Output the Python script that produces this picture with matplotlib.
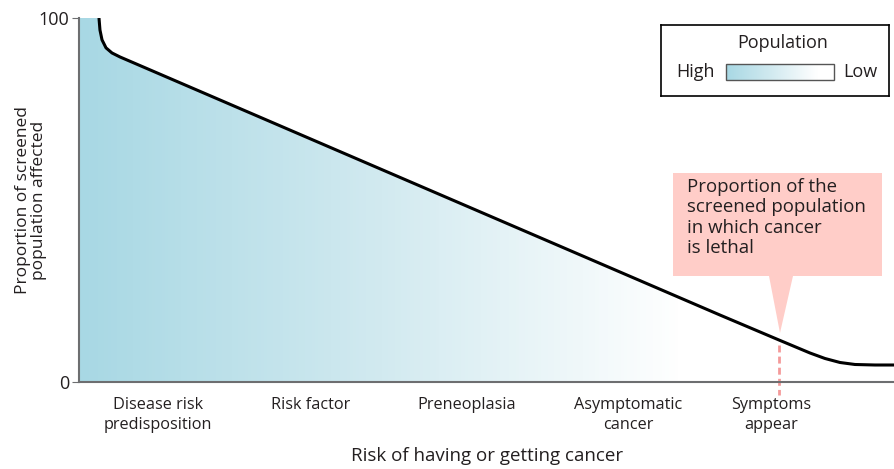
import numpy as np
import matplotlib.pyplot as plt
from matplotlib.colors import LinearSegmentedColormap
from matplotlib.patches import Polygon, Rectangle

plt.rcParams['font.family'] = ['Open Sans', 'DejaVu Sans']

# curve (x in % of axis width, y in % affected)
curve_x = [2.45, 2.57, 2.82, 3.31, 4.04, 5.02, 78.55, 85.78, 89.58, 91.42, 93.26, 95.10, 97.55, 100.0]
curve_y = [100, 96.7, 94.0, 91.8, 90.4, 89.3, 18.4, 11.54, 7.97, 6.46, 5.36, 4.81, 4.67, 4.67]

stages = ['Disease risk\npredisposition', 'Risk factor', 'Preneoplasia', 'Asymptomatic\ncancer', 'Symptoms\nappear']
stage_x = [9.7, 28.4, 47.5, 67.3, 84.8]
symptom_x = 85.78

blue = '#a8d8e4'
cmap = LinearSegmentedColormap.from_list('pop', [blue, '#d2eaf0', 'white'])

fig = plt.figure(figsize=(8.95, 4.69), dpi=100)
ax = fig.add_axes([79/895, 1-382/469, 816/895, 364/469])
ax.set_xlim(0, 100)
ax.set_ylim(0, 100)

# gradient fill under the curve
fx = [0] + curve_x + [100, 0]
fy = [100] + curve_y + [0, 0]
poly = Polygon(np.column_stack([fx, fy]), closed=True, facecolor='none', edgecolor='none')
ax.add_patch(poly)
grad = np.linspace(0, 1, 256)
grad = np.clip(grad / 0.74, 0, 1)
im = ax.imshow(grad[np.newaxis, :], cmap=cmap, extent=[0, 100, 0, 100], aspect='auto', zorder=1)
im.set_clip_path(poly)

ax.plot(curve_x, curve_y, color='black', lw=2.2, zorder=3, solid_capstyle='butt')

# symptoms dashed line
ax.plot([symptom_x, symptom_x], [np.interp(symptom_x, curve_x, curve_y) - 1.5, -3.5], color='#f49a9a',
        lw=2, ls=(0, (2.5, 1.5)), clip_on=False, zorder=2)

for s in ['top', 'right']:
    ax.spines[s].set_visible(False)
for s in ['left', 'bottom']:
    ax.spines[s].set_color('#6d6e70')
    ax.spines[s].set_linewidth(1.5)
ax.set_yticks([0, 100])
ax.set_yticklabels(['0', '100'], fontsize=13, color='#231f20')
ax.tick_params(axis='y', length=5, color='#6d6e70', pad=2)
ax.set_xticks(stage_x)
ax.set_xticklabels(stages, fontsize=11.7, color='#231f20', linespacing=1.3)
ax.tick_params(axis='x', length=0, pad=11)
ax.set_xlabel('Risk of having or getting cancer', fontsize=13.5, color='#231f20', labelpad=10)
ax.set_ylabel('Proportion of screened\npopulation affected', fontsize=12.5, color='#231f20', linespacing=1.05)
ax.yaxis.set_label_coords(-0.039, 0.5)

# callout
px = lambda v: (v - 79) / 816 * 100
py = lambda v: (382 - v) / 364 * 100
box = Rectangle((px(673), py(276)), px(882) - px(673), py(173) - py(276), facecolor='#ffcdc8',
                edgecolor='none', zorder=4, clip_on=False)
ax.add_patch(box)
tri = Polygon([[px(769), py(276)], [px(793), py(276)], [px(780), py(333)]], closed=True,
              facecolor='#ffcdc8', edgecolor='none', zorder=4)
ax.add_patch(tri)
ax.text(px(687), py(178), 'Proportion of the\nscreened population\nin which cancer\nis lethal', fontsize=13.4,
        color='#231f20', va='top', ha='left', linespacing=1.17, zorder=5)

# legend box
lax = fig.add_axes([661/895, 1-96/469, 228/895, 71/469])
lax.set_xticks([])
lax.set_yticks([])
for s in lax.spines.values():
    s.set_linewidth(1.2)
lax.text(122, 18, 'Population', ha='center', va='center', fontsize=13, color='#231f20')
lax.text(15, 47, 'High', ha='left', va='center', fontsize=13, color='#231f20')
lax.text(182, 47, 'Low', ha='left', va='center', fontsize=13, color='#231f20')
lax.imshow(np.clip(np.linspace(0, 1, 256) / 0.85, 0, 1)[np.newaxis, :], cmap=cmap,
           extent=[65, 173, 55, 39], aspect='auto')
lax.add_patch(Rectangle((65, 39), 108, 16, facecolor='none', edgecolor='#555555', lw=1))
lax.set_xlim(0, 228)
lax.set_ylim(71, 0)

fig.savefig('out.png', dpi=100)
